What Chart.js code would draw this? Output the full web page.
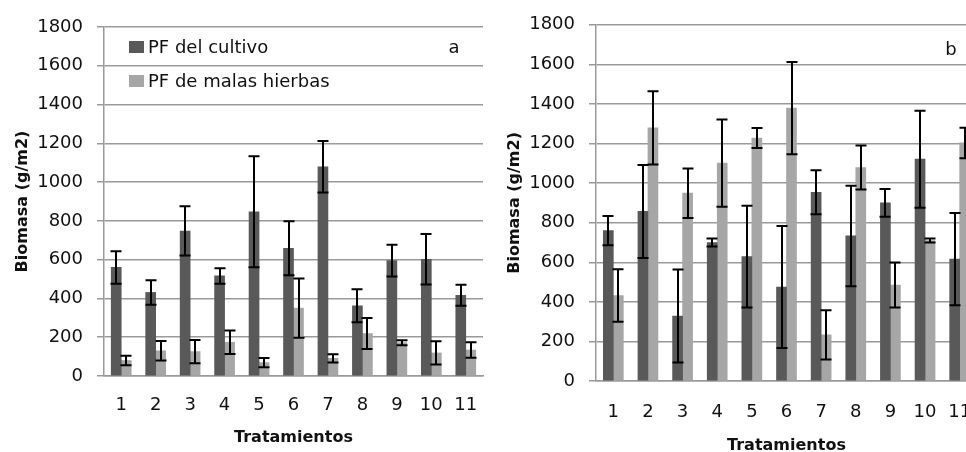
<!DOCTYPE html>
<html><head><meta charset="utf-8">
<script src="https://cdn.jsdelivr.net/npm/chart.js@4.4.1/dist/chart.umd.min.js"></script>
<style>
html,body{margin:0;padding:0;width:966px;height:452px;overflow:hidden;background:#fff;}
canvas{position:absolute;top:0;}
#ca{left:0;}
#cb{left:483px;}
</style></head><body>
<canvas id="ca" width="490" height="470"></canvas>
<canvas id="cb" width="520" height="470"></canvas>
<script>
// ---- data ----
const categories = ['1','2','3','4','5','6','7','8','9','10','11'];
const seriesNames = ['PF del cultivo', 'PF de malas hierbas'];
const panelLabels = ['a', 'b'];
const yTicks = [0, 200, 400, 600, 800, 1000, 1200, 1400, 1600, 1800];

// panel a
const cultivoA    = [560, 431, 748, 516, 847, 659, 1079, 362, 595, 602, 416];
const cultivoAErr = [84, 63, 127, 40, 286, 139, 133, 85, 82, 130, 54];
const malasA      = [80, 130, 126, 174, 69, 350, 91, 219, 172, 119, 134];
const malasAErr   = [25, 50, 60, 61, 24, 153, 21, 80, 13, 60, 40];

// panel b
const cultivoB    = [760, 857, 328, 700, 629, 475, 954, 733, 900, 1121, 616];
const cultivoBErr = [74, 235, 235, 20, 257, 308, 111, 254, 70, 245, 233];
const malasB      = [432, 1279, 949, 1101, 1228, 1379, 233, 1079, 485, 710, 1203];
const malasBErr   = [133, 185, 125, 220, 50, 233, 124, 111, 114, 10, 77];

// ---- styling ----
const DARK = '#595959', LIGHT = '#a6a6a6';
const FONT = 'DejaVu Sans';
const GRID = '#9a9a9a';

const errorBars = {
  id: 'errorBars',
  afterDatasetsDraw(chart, args, opts) {
    const ctx = chart.ctx, y = chart.scales.y;
    ctx.save();
    ctx.strokeStyle = '#000';
    ctx.lineWidth = 2;
    chart.data.datasets.forEach((ds, i) => {
      const meta = chart.getDatasetMeta(i);
      const errs = opts.errors[i];
      meta.data.forEach((bar, j) => {
        const v = ds.data[j], e = errs[j];
        const x = Math.round(bar.x);
        const yt = y.getPixelForValue(v + e), yb = y.getPixelForValue(v - e);
        const cw = 5.5;
        ctx.beginPath();
        ctx.moveTo(x, yt); ctx.lineTo(x, yb);
        ctx.moveTo(x - cw, yt); ctx.lineTo(x + cw, yt);
        ctx.moveTo(x - cw, yb); ctx.lineTo(x + cw, yb);
        ctx.stroke();
      });
    });
    ctx.restore();
  }
};

const annotations = {
  id: 'annotations',
  afterDraw(chart, args, opts) {
    const ctx = chart.ctx;
    ctx.save();
    ctx.font = '18px "' + FONT + '"';
    ctx.fillStyle = '#111';
    ctx.textBaseline = 'alphabetic';
    ctx.textAlign = 'center';
    ctx.fillText(opts.letter, opts.letterX, opts.letterY);
    if (opts.legend) {
      chart.data.datasets.forEach((ds, i) => {
        const cy = opts.legendY + i * opts.legendGap;
        ctx.fillStyle = ds.backgroundColor;
        ctx.fillRect(opts.legendX, cy - 6, 15, 12);
        ctx.fillStyle = '#111';
        ctx.textAlign = 'left';
        ctx.textBaseline = 'middle';
        ctx.fillText(ds.label, opts.legendX + 19, cy + 1);
      });
    }
    ctx.restore();
  }
};

function makeChart(id, d1, d2, e1, e2, cfg) {
  return new Chart(document.getElementById(id), {
    type: 'bar',
    data: {
      labels: categories,
      datasets: [
        { label: seriesNames[0], data: d1, backgroundColor: DARK, barThickness: 10, borderWidth: 0 },
        { label: seriesNames[1], data: d2, backgroundColor: LIGHT, barThickness: 10, borderWidth: 0 }
      ]
    },
    plugins: [errorBars, annotations],
    options: {
      responsive: false,
      animation: false,
      devicePixelRatio: 1,
      layout: { padding: { left: 0, right: cfg.padRight, top: cfg.top, bottom: 0 } },
      plugins: {
        legend: { display: false },
        tooltip: { enabled: false },
        errorBars: { errors: [e1, e2] },
        annotations: cfg.ann
      },
      scales: {
        x: {
          grid: { display: false },
          border: { display: true, color: GRID, width: 1.5 },
          ticks: { color: '#111', font: { family: FONT, size: 18 }, padding: cfg.xPad, autoSkip: false, maxRotation: 0 },
          title: { display: true, text: 'Tratamientos', color: '#111',
                   font: { family: FONT, size: 16, weight: 'bold' }, padding: { top: 0, bottom: cfg.xTitlePad } },
          afterFit: s => { s.height = cfg.xHeight; }
        },
        y: {
          min: 0, max: 1800,
          afterBuildTicks: s => { s.ticks = yTicks.map(v => ({ value: v })); },
          grid: { color: GRID, lineWidth: 1.5, tickLength: 7 },
          border: { color: GRID, width: 1.5 },
          ticks: { color: '#111', font: { family: FONT, size: 18 }, padding: 14,
                   callback: v => String(v) },
          title: { display: true, text: 'Biomasa (g/m2)', color: '#111',
                   font: { family: FONT, size: 16, weight: 'bold' }, padding: { top: cfg.yTitlePad, bottom: 0 } },
          afterFit: s => { s.width = cfg.yWidth; }
        }
      }
    }
  });
}

makeChart('ca', cultivoA, malasA, cultivoAErr, malasAErr, {
  padRight: 7, top: 27, xHeight: 94, yWidth: 104, xPad: 11, xTitlePad: 23, yTitlePad: 13,
  ann: { letter: panelLabels[0], letterX: 454, letterY: 53, legend: true, legendX: 129, legendY: 47, legendGap: 34 }
});
makeChart('cb', cultivoB, malasB, cultivoBErr, malasBErr, {
  padRight: 26, top: 23, xHeight: 89, yWidth: 113, xPad: 13, xTitlePad: 15, yTitlePad: 22,
  ann: { letter: panelLabels[1], letterX: 468, letterY: 55, legend: false }
});
</script>
</body></html>
